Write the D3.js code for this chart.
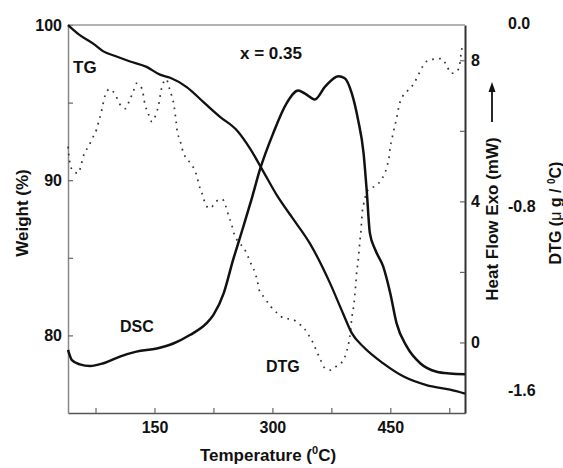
<!DOCTYPE html>
<html>
<head>
<meta charset="utf-8">
<script src="https://cdnjs.cloudflare.com/ajax/libs/d3/7.9.0/d3.min.js"></script>
<style>
  body { margin: 0; background: #fff; }
  text { font-family: "Liberation Sans", Arial, sans-serif; font-weight: bold; fill: #111; }
</style>
</head>
<body>
<div class="canvas"></div>
<script>
// TG (weight %)
const tgT = [40, 55, 72, 85, 100, 119, 140, 157, 170, 191, 212, 233, 255, 272, 288, 306, 325, 348, 373, 390, 401, 416, 441, 467, 496, 526, 545];
const tgW = [100, 99.35, 98.8, 98.3, 98.0, 97.65, 97.3, 96.8, 96.6, 96.0, 95.05, 94.1, 93.2, 92.0, 90.6, 89.0, 87.6, 85.9, 83.4, 81.4, 80.15, 79.25, 78.2, 77.35, 76.8, 76.5, 76.25];

// DSC (heat flow, mW)
const dscT = [40, 45, 55, 68, 85, 106, 127, 153, 174, 195, 216, 225, 238, 250, 263, 274, 284, 301, 318, 333, 341, 354, 367, 384, 392, 401, 409, 416, 420, 424, 431, 441, 450, 458, 471, 488, 509, 526, 545];
const dscH = [-0.21, -0.5, -0.62, -0.67, -0.59, -0.4, -0.26, -0.17, -0.03, 0.21, 0.54, 0.78, 1.39, 2.34, 3.28, 4.1, 4.89, 5.93, 6.78, 7.14, 7.06, 6.89, 7.25, 7.55, 7.49, 7.06, 6.31, 5.36, 4.3, 3.1, 2.62, 2.15, 1.39, 0.54, -0.12, -0.59, -0.83, -0.88, -0.9];

// DTG (ug / C)
const dtgT = [40, 42.5, 47, 53, 57, 60, 66, 71, 76, 79, 82, 87, 93, 101, 106, 113, 118, 123, 127, 134, 138, 142, 146.5, 152, 155, 159, 165, 169, 172, 175, 177.5, 179, 182.5, 185, 189, 196, 202, 208, 212, 215, 221, 228, 236, 241, 244, 248, 251, 256.5, 264, 269, 273.5, 278, 281, 283, 289.5, 298, 306.5, 315, 325.6, 333, 340.5, 346, 352, 356.6, 361.7, 367, 374.4, 383, 390.5, 394.3, 397, 399, 401.2, 403, 404.5, 405.4, 406.3, 407.1, 408.4, 409.6, 410.5, 411.4, 412.6, 413.3, 414, 416, 423.4, 432, 438, 442.5, 446.3, 448.5, 449.7, 452, 454, 457, 459, 461, 465.5, 473, 479.5, 485, 491, 497, 504, 515, 522, 527, 534.6, 538.8, 540, 542.3];
const dtgD = [-0.538, -0.611, -0.647, -0.654, -0.614, -0.575, -0.538, -0.502, -0.466, -0.429, -0.393, -0.317, -0.287, -0.317, -0.353, -0.372, -0.338, -0.298, -0.262, -0.284, -0.356, -0.393, -0.429, -0.396, -0.361, -0.284, -0.244, -0.284, -0.317, -0.361, -0.429, -0.473, -0.509, -0.545, -0.582, -0.611, -0.647, -0.72, -0.757, -0.793, -0.807, -0.778, -0.767, -0.8, -0.836, -0.876, -0.916, -0.953, -0.982, -1.018, -1.055, -1.088, -1.127, -1.161, -1.195, -1.236, -1.265, -1.287, -1.291, -1.309, -1.331, -1.36, -1.396, -1.433, -1.472, -1.505, -1.513, -1.491, -1.469, -1.433, -1.396, -1.353, -1.28, -1.244, -1.2, -1.164, -1.127, -1.091, -1.055, -1.018, -0.982, -0.945, -0.909, -0.873, -0.836, -0.79, -0.72, -0.709, -0.684, -0.658, -0.618, -0.582, -0.545, -0.506, -0.473, -0.429, -0.396, -0.361, -0.32, -0.291, -0.265, -0.23, -0.189, -0.164, -0.157, -0.154, -0.186, -0.218, -0.211, -0.168, -0.131, -0.095];

// ticks
const xTicks = [75, 150, 225, 300, 375, 450, 525];
const xLabels = [150, 300, 450];
const wTicks = [80, 85, 90, 95, 100];
const wLabels = [80, 90, 100];
const hTicks = [0, 2, 4, 6, 8];
const hLabels = [0, 4, 8];
const dTicks = [0, -0.8, -1.6];

const width = 563;
const height = 468;
const padL = 68, padR = 465, padT = 25, padB = 413;

const svg = d3.select(".canvas")
  .append("svg")
  .attr("width", width)
  .attr("height", height);

const x = d3.scaleLinear().domain([40, 545]).range([padL, padR]);
const yW = d3.scaleLinear().domain([75, 100]).range([padB, padT]);
const yH = d3.scaleLinear().domain([-2, 9]).range([padB, padT]);
const yD = d3.scaleLinear().domain([-1.7, 0]).range([padB, 23.3]);

// axes
const gx = svg.append("g")
  .attr("transform", `translate(0,${padB})`)
  .call(d3.axisBottom(x).tickValues(xTicks).tickSize(-5).tickSizeOuter(0).tickPadding(9)
    .tickFormat(d => xLabels.includes(d) ? d : ""));

const gl = svg.append("g")
  .attr("transform", `translate(${padL},0)`)
  .call(d3.axisLeft(yW).tickValues(wTicks).tickSize(-5).tickSizeOuter(0).tickPadding(6)
    .tickFormat(d => wLabels.includes(d) ? d : ""));

const gr = svg.append("g")
  .attr("transform", `translate(${padR},0)`)
  .call(d3.axisRight(yH).tickValues(hTicks).tickSize(-5).tickSizeOuter(0).tickPadding(6)
    .tickFormat(d => hLabels.includes(d) ? d : ""));

const gd = svg.append("g")
  .attr("transform", "translate(508,0)")
  .call(d3.axisRight(yD).tickValues(dTicks).tickSize(0).tickPadding(0)
    .tickFormat(d => d.toFixed(1)));
gd.select(".domain").remove();

[gx, gl, gr, gd].forEach(g => {
  g.selectAll("text").style("font-size", "16px").attr("fill", "#111");
  g.selectAll("line").attr("stroke", "#666").attr("stroke-width", 1.2);
});
gx.select(".domain").attr("stroke", "#555").attr("stroke-width", 1.5);
gl.select(".domain").attr("stroke", "#888").attr("stroke-width", 1.5);
gr.select(".domain").attr("stroke", "#333").attr("stroke-width", 2);

svg.append("line")
  .attr("x1", padL).attr("x2", padR).attr("y1", padT).attr("y2", padT)
  .attr("stroke", "#999").attr("stroke-width", 1.5);

// curves
const tgLine = d3.line().x(i => x(tgT[i])).y(i => yW(tgW[i])).curve(d3.curveMonotoneX);
const dscLine = d3.line().x(i => x(dscT[i])).y(i => yH(dscH[i])).curve(d3.curveMonotoneX);
const dtgLine = d3.line().x(i => x(dtgT[i])).y(i => yD(dtgD[i])).curve(d3.curveMonotoneX);

svg.append("path")
  .attr("d", dtgLine(d3.range(dtgT.length)))
  .attr("fill", "none").attr("stroke", "#333")
  .attr("stroke-width", 1.7).attr("stroke-dasharray", "1.7,5.3");

svg.append("path")
  .attr("d", tgLine(d3.range(tgT.length)))
  .attr("fill", "none").attr("stroke", "#111").attr("stroke-width", 2.3);

svg.append("path")
  .attr("d", dscLine(d3.range(dscT.length)))
  .attr("fill", "none").attr("stroke", "#111").attr("stroke-width", 2.5);

// labels
svg.append("text").attr("x", 73).attr("y", 73).style("font-size", "17px").text("TG");
svg.append("text").attr("x", 120).attr("y", 332).style("font-size", "16px").text("DSC");
svg.append("text").attr("x", 266).attr("y", 372).style("font-size", "16px").text("DTG");
svg.append("text").attr("x", 240).attr("y", 59).style("font-size", "17px").text("x = 0.35");

const xt = svg.append("text").attr("x", 268).attr("y", 461)
  .attr("text-anchor", "middle").style("font-size", "17px");
xt.append("tspan").text("Temperature (");
xt.append("tspan").attr("dy", -7).style("font-size", "11px").text("0");
xt.append("tspan").attr("dy", 7).text("C)");

svg.append("text")
  .attr("transform", "translate(28,213) rotate(-90)")
  .attr("text-anchor", "middle").style("font-size", "17px")
  .text("Weight (%)");

svg.append("text")
  .attr("transform", "translate(498,219) rotate(-90)")
  .attr("text-anchor", "middle").style("font-size", "17px")
  .text("Heat Flow Exo (mW)");

// arrow next to heat flow label
svg.append("line")
  .attr("x1", 492).attr("x2", 492).attr("y1", 122).attr("y2", 90)
  .attr("stroke", "#111").attr("stroke-width", 1.8);
svg.append("path")
  .attr("d", "M492,82 L488.5,92 L495.5,92 Z")
  .attr("fill", "#111");

const dt = svg.append("text")
  .attr("transform", "translate(561,213) rotate(-90)")
  .attr("text-anchor", "middle").style("font-size", "16px");
dt.append("tspan").text("DTG (");
dt.append("tspan").style("font-weight", "normal").text("\u03bc");
dt.append("tspan").text(" g / ");
dt.append("tspan").attr("dy", -6).style("font-size", "10px").text("0");
dt.append("tspan").attr("dy", 6).text("C)");
</script>
</body>
</html>
